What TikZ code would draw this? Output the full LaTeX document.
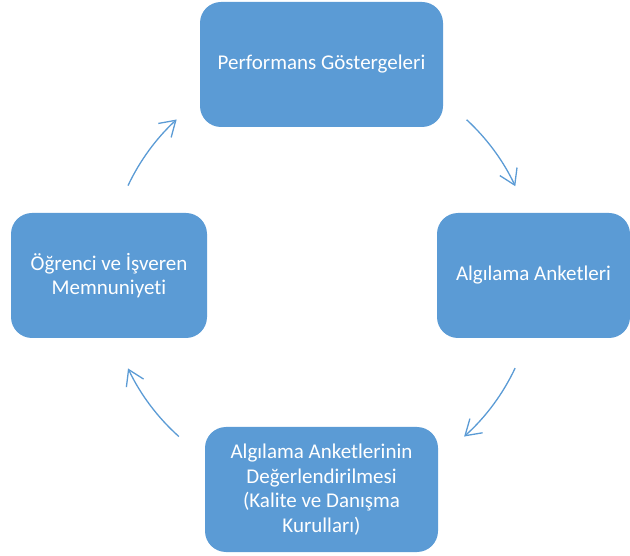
\documentclass[tikz,border=0pt]{standalone}
\usepackage{fontspec}
\setmainfont[Ligatures=NoCommon]{Carlito}
\usetikzlibrary{arrows.meta}

\definecolor{boxblue}{RGB}{91,155,213}

\begin{document}
\begin{tikzpicture}[
            x=1pt, y=1pt,
            box/.style={fill=boxblue, rounded corners=21pt, minimum height=125pt,
                text=white, align=center, font=\fontsize{21}{24.5}\selectfont},
            cyc/.style={draw=boxblue, line width=1.3pt,
                -{Straight Barb[length=15pt, width=19pt]}}
        ]
        \useasboundingbox (0,0) rectangle (630,555);

        \node[box, minimum width=243pt] (perf) at (321.5,490.5) {Performans Göstergeleri};
        \node[box, minimum width=193pt] (algi) at (533.5,279.5) {Algılama Anketleri};
        \node[box, minimum width=233pt] (deger) at (321.5,65.5)
            {Algılama Anketlerinin\\Değerlendirilmesi\\(Kalite ve Danışma\\Kurulları)};
        \node[box, minimum width=196pt] (memn) at (109,279.5) {Öğrenci ve İşveren\\Memnuniyeti};

        % cycle arrows around the middle
        \coordinate (ctr) at (321.5,278);
        \draw[cyc] ([shift={(47.3:214)}]ctr) arc[start angle=47.3, end angle=25.1, radius=214pt];
        \draw[cyc] ([shift={(-25.2:214)}]ctr) arc[start angle=-25.2, end angle=-48.2, radius=214pt];
        \draw[cyc] ([shift={(-131.8:214)}]ctr) arc[start angle=-131.8, end angle=-154.7, radius=214pt];
        \draw[cyc] ([shift={(154.7:214)}]ctr) arc[start angle=154.7, end angle=132.6, radius=214pt];
    \end{tikzpicture}
\end{document}
